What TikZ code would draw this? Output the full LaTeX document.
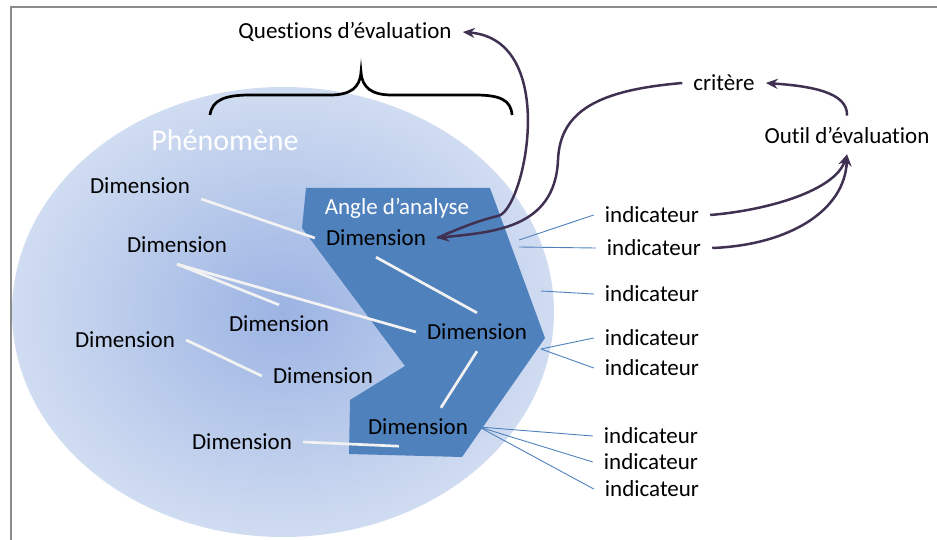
\documentclass[tikz,border=0pt]{standalone}
\usepackage{fontspec}
\setmainfont[Ligatures={TeX,NoCommon}]{Carlito}
\usetikzlibrary{arrows.meta}
\definecolor{fond}{RGB}{208,220,241}
\definecolor{coeur}{RGB}{156,180,227}
\definecolor{bleuangle}{RGB}{79,129,189}
\definecolor{fleche}{RGB}{64,49,82}
\definecolor{cadre}{RGB}{140,140,140}
\tikzset{
  txt/.style={font=\fontsize{23}{27}\selectfont, inner sep=11pt},
  lien/.style={draw=white!95!black, line width=2.7pt},
  ind/.style={draw=bleuangle, line width=0.9pt},
  fl/.style={->, draw=fleche, line width=2.5pt, >={Stealth[length=12pt,width=10pt]}},
}
\begin{document}
\begin{tikzpicture}[x=1pt,y=1pt]
\useasboundingbox (0,0) rectangle (937,-540);
\draw[cadre, line width=2pt] (11,-540) -- (11,-7) -- (937,-7);
\shade[inner color=coeur, outer color=fond] (283,-312) ellipse (271 and 225);
\fill[bleuangle] (306,-188) -- (490,-188) -- (545,-338) -- (462,-457) -- (349,-454) -- (350,-400) -- (405,-366) -- (302,-228) -- cycle;
\draw[line width=2.7pt] (210,-115) .. controls (212,-100) and (225,-95) .. (250,-95) -- (330,-95) .. controls (350,-95) and (360,-88) .. (361,-72) .. controls (362,-88) and (372,-95) .. (392,-95) -- (475,-95) .. controls (500,-95) and (511,-100) .. (512,-115);

\node[txt] (Q) at (345,-32) {Questions d’évaluation};
\node[txt, font=\fontsize{30}{36}\selectfont, text=white] (Ph) at (225,-140) {Phénomène};
\node[txt, text=white] (A) at (397,-208) {Angle d’analyse};
\node[txt] (D1) at (140,-186) {Dimension};
\node[txt] (D2) at (177,-245) {Dimension};
\node[txt] (D3) at (376,-238) {Dimension};
\node[txt] (D4) at (279,-324) {Dimension};
\node[txt] (D5) at (125,-340) {Dimension};
\node[txt] (D6) at (323,-376) {Dimension};
\node[txt] (D7) at (477,-332) {Dimension};
\node[txt] (D8) at (418,-427) {Dimension};
\node[txt] (D9) at (242,-442) {Dimension};
\node[txt] (I1) at (652,-215) {indicateur};
\node[txt] (I2) at (654,-248) {indicateur};
\node[txt] (I3) at (652,-294) {indicateur};
\node[txt] (I4) at (652,-338) {indicateur};
\node[txt] (I5) at (652,-368) {indicateur};
\node[txt] (I6) at (651,-436) {indicateur};
\node[txt] (I7) at (651,-462) {indicateur};
\node[txt] (I8) at (652,-489) {indicateur};
\node[txt] (Cr) at (724,-83) {critère};
\node[txt] (O) at (847,-135) {Outil d’évaluation};

\draw[lien] (D1.-12) -- (D3.west);
\draw[lien] (D2.south) -- (D4.north);
\draw[lien] (D2.south) -- (D7.west);
\draw[lien] (D3.south) -- (D7.north);
\draw[lien] (D5.east) -- (D6.west);
\draw[lien] (D7.south) -- (D8.40);
\draw[lien] (D9.east) -- (D8.-135);

\coordinate (P1) at (519,-240);
\coordinate (P2) at (519,-247);
\coordinate (P3) at (541,-291);
\coordinate (P4) at (541,-349);
\draw[ind] (P1) -- (I1.west);
\draw[ind] (P2) -- (I2.west);
\draw[ind] (P3) -- (I3.west);
\draw[ind] (P4) -- (I4.west);
\draw[ind] (P4) -- (I5.west);
\draw[ind] (D8.east) -- (I6.west);
\draw[ind] (D8.east) -- (I7.west);
\draw[ind] (D8.east) -- (I8.west);

\draw[fl] (D3.east) .. controls (460,-228) and (480,-220) .. (498,-216) .. controls (525,-210) and (560,-40) .. (Q.east);
\draw[fl] (Cr.west) .. controls (600,-90) and (560,-110) .. (558,-160) .. controls (555,-230) and (490,-232) .. (D3.east);
\draw[fl] (O.north) .. controls (848,-92) and (810,-86) .. (Cr.east);
\draw[fl] (I1.east) .. controls (770,-210) and (835,-190) .. (O.south);
\draw[fl] (I2.east) .. controls (790,-245) and (845,-210) .. (O.south);
\end{tikzpicture}
\end{document}
